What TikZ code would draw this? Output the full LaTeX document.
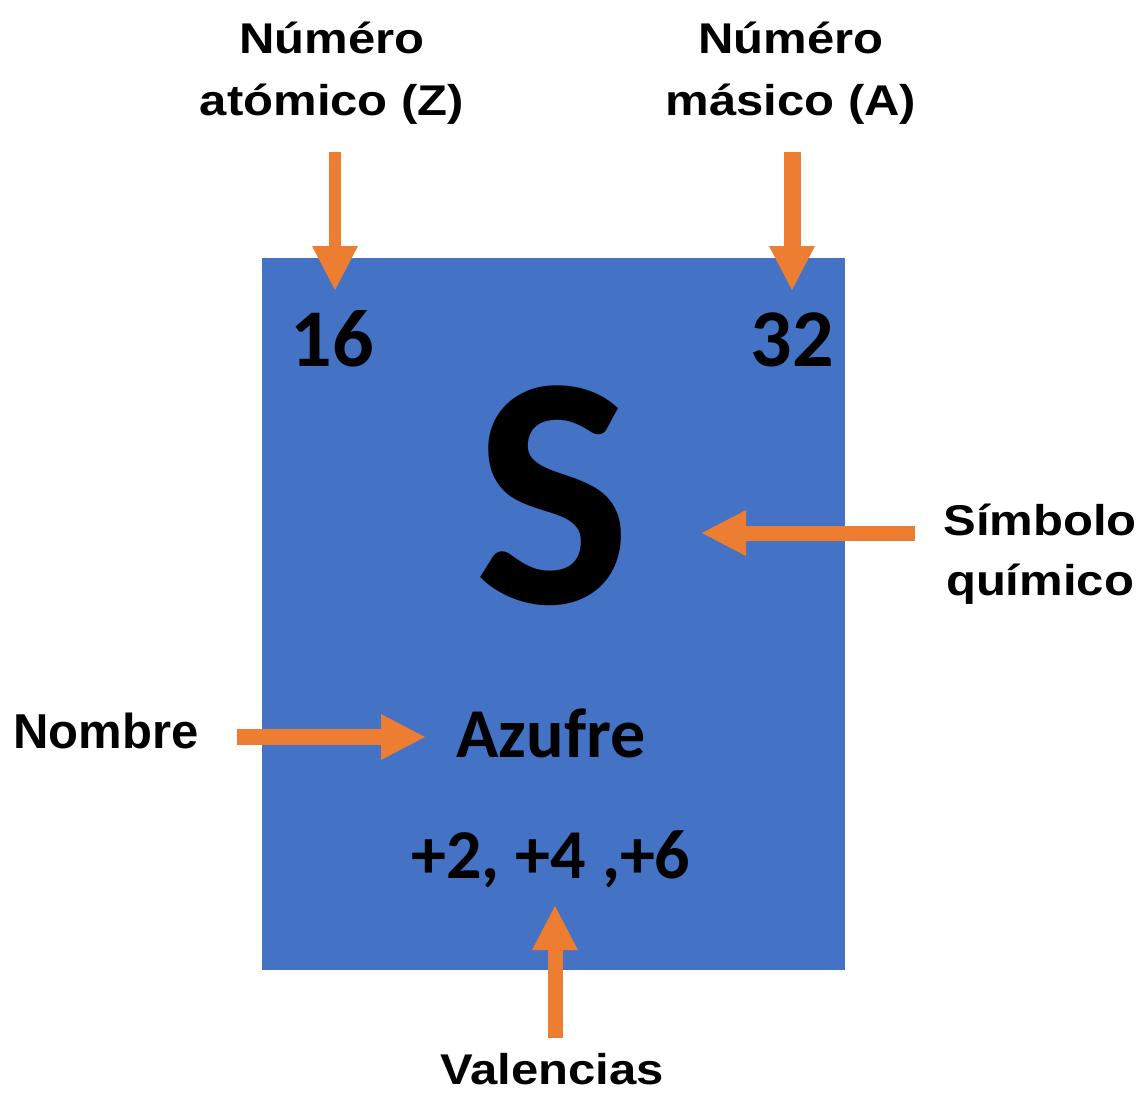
\documentclass[tikz,border=0pt]{standalone}
\usepackage{fontspec}
\setmainfont{Liberation Sans}
\newfontfamily\labfont[FakeStretch=1.14]{Liberation Sans}
\newfontfamily\calfont{Carlito}
\usetikzlibrary{arrows.meta}
\definecolor{elblue}{HTML}{4472C4}
\definecolor{elorange}{HTML}{ED7D31}
\begin{document}
\begin{tikzpicture}[x=1pt,y=-1pt,
  lab/.style={inner sep=0pt, anchor=base, align=center, font=\labfont\bfseries\fontsize{43}{62}\selectfont},
  boxtxt/.style={inner sep=0pt, anchor=base, font=\calfont\bfseries},
  arr/.style={draw=elorange, line width=#1, -{Triangle[length=44pt,width=46pt,line width=0pt]}},
  elbox/.style={fill=elblue, draw=none, minimum width=583pt, minimum height=712pt, inner sep=0pt}]
\useasboundingbox (0,0) rectangle (1144,1093);
\fill[white] (0,0) rectangle (1144,1093);
% element box
\node[elbox] (box) at (553.5,614) {};
% box texts
\node[boxtxt, font=\calfont\bfseries\fontsize{82}{82}\selectfont] (z) at (332,366) {16};
\node[boxtxt, font=\calfont\bfseries\fontsize{82}{82}\selectfont] (a) at (792,366) {32};
\node[boxtxt, font=\calfont\bfseries\fontsize{332}{332}\selectfont] (s) at (553,603) {S};
\node[boxtxt, font=\calfont\bfseries\fontsize{70}{70}\selectfont] (name) at (551,757) {Azufre};
\node[boxtxt, font=\calfont\bfseries\fontsize{70}{70}\selectfont] (val) at (551,878) {+2, +4 ,+6};
% labels (anchor base = baseline of the last line)
\node[lab] (lz) at (332,115) {N\'um\'ero\\at\'omico (Z)};
\node[lab] (la) at (791,115) {N\'um\'ero\\m\'asico (A)};
\node[lab, font=\labfont\bfseries\fontsize{43}{60}\selectfont] (ls) at (1040,595) {S\'imbolo\\qu\'imico};
\node[lab, font=\bfseries\fontsize{49}{49}\selectfont] (ln) at (106,748) {Nombre};
\node[lab, font=\labfont\bfseries\fontsize{43}{43}\selectfont] (lv) at (552,1084) {Valencias};
% arrow end points
\coordinate (z0) at (335,152); \coordinate (z1) at (335,290);
\coordinate (a0) at (792,152); \coordinate (a1) at (792,290);
\coordinate (s0) at (915,533); \coordinate (s1) at (702,533);
\coordinate (n0) at (237,737); \coordinate (n1) at (425,737);
\coordinate (v0) at (555,1038); \coordinate (v1) at (555,906);
\draw[arr=12pt] (z0) -- (z1);
\draw[arr=17pt] (a0) -- (a1);
\draw[arr=15pt] (s0) -- (s1);
\draw[arr=16pt] (n0) -- (n1);
\draw[arr=15pt] (v0) -- (v1);
\end{tikzpicture}
\end{document}
